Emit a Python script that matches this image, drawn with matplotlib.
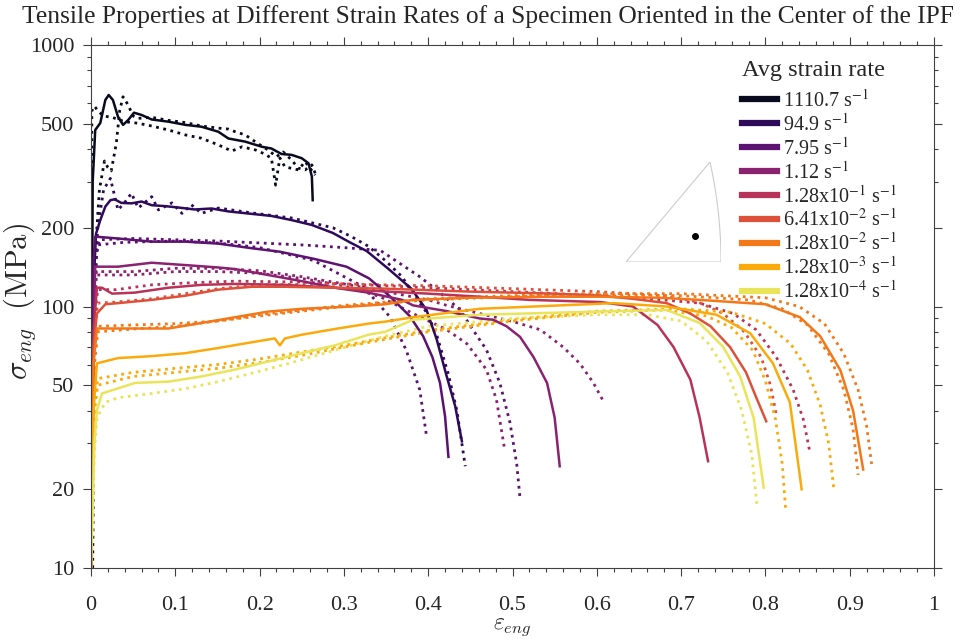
import numpy as np
import matplotlib.pyplot as plt

plt.rcParams['font.family'] = ['Liberation Serif', 'DejaVu Serif']
plt.rcParams['mathtext.fontset'] = 'cm'

# legend labels and colours (one per strain rate)
rate_labels = ['1110.7 s$^{-1}$', '94.9 s$^{-1}$', '7.95 s$^{-1}$', '1.12 s$^{-1}$',
               '1.28x10$^{-1}$ s$^{-1}$', '6.41x10$^{-2}$ s$^{-1}$', '1.28x10$^{-2}$ s$^{-1}$',
               '1.28x10$^{-3}$ s$^{-1}$', '1.28x10$^{-4}$ s$^{-1}$']
rate_colors = ['#0a0a1e', '#2e0a5a', '#5c1270', '#8a2270', '#b83359',
               '#dd513a', '#f37819', '#fbaa0c', '#e9e45a']

# ---- 1110.7 /s
s1_x = [0, 0.002, 0.005, 0.011, 0.017, 0.021, 0.026, 0.032, 0.038, 0.044, 0.051, 0.060, 0.072, 0.092,
        0.112, 0.131, 0.151, 0.163, 0.183, 0.203, 0.214, 0.226, 0.238, 0.250, 0.258, 0.262, 0.263]
s1_y = [10, 300, 473, 503, 616, 644, 616, 532, 495, 516, 551, 540, 519, 509, 495, 487, 466, 439, 427,
        408, 402, 383, 380, 369, 353, 314, 255]
d1a_x = [0, 0.001, 0.004, 0.009, 0.015, 0.025, 0.040, 0.056, 0.072, 0.092, 0.112, 0.131, 0.151, 0.167,
         0.179, 0.195, 0.206, 0.214, 0.219, 0.224, 0.230, 0.246, 0.254, 0.266]
d1a_y = [10, 560, 584, 556, 535, 529, 509, 502, 490, 473, 453, 440, 415, 393, 408, 397, 383, 369, 291,
         370, 342, 333, 358, 318]
d1b_x = [0.002, 0.004, 0.007, 0.010, 0.016, 0.020, 0.024, 0.030, 0.034, 0.038, 0.044, 0.050, 0.056,
         0.072, 0.092, 0.112, 0.131, 0.151, 0.163, 0.171, 0.183, 0.198, 0.210, 0.220, 0.228, 0.238,
         0.246, 0.254, 0.262, 0.266]
d1b_y = [10, 60, 200, 280, 360, 340, 330, 420, 560, 634, 590, 535, 524, 529, 515, 505, 490, 481, 477,
         466, 453, 420, 397, 374, 390, 363, 338, 333, 348, 323]

# ---- 94.9 /s
s2_x = [0, 0.003, 0.006, 0.011, 0.017, 0.023, 0.028, 0.036, 0.048, 0.060, 0.072, 0.088, 0.104, 0.123,
        0.143, 0.163, 0.191, 0.214, 0.238, 0.262, 0.287, 0.307, 0.327, 0.352, 0.380, 0.398, 0.410,
        0.422, 0.432, 0.440]
s2_y = [10, 120, 190, 214, 241, 255, 257, 249, 248, 252, 244, 242, 239, 235, 237, 231, 226, 222, 214,
        205, 191, 176, 163, 140, 117, 97, 75, 54, 41.6, 30.5]
d2_x = [0, 0.004, 0.008, 0.015, 0.023, 0.032, 0.040, 0.048, 0.056, 0.064, 0.072, 0.080, 0.096, 0.108,
        0.119, 0.131, 0.151, 0.191, 0.238, 0.287, 0.309, 0.329, 0.349, 0.369, 0.382, 0.398, 0.410,
        0.424, 0.434, 0.444]
d2_y = [10, 120, 200, 280, 309, 234, 250, 271, 238, 250, 263, 234, 249, 227, 245, 227, 238, 228, 218,
        200, 185, 170, 150, 130, 112, 95, 78, 55, 40, 24.5]

# ---- 7.95 /s
s3_x = [0, 0.003, 0.005, 0.032, 0.072, 0.112, 0.151, 0.191, 0.224, 0.265, 0.303, 0.330, 0.355, 0.378,
        0.394, 0.405, 0.414, 0.420, 0.424]
s3_y = [10, 150, 185, 182, 177, 177, 174, 167, 162, 152, 142, 128, 109, 92, 77, 64, 51, 38, 26.6]
d3a_x = [0, 0.004, 0.008, 0.04, 0.10, 0.15, 0.20, 0.264, 0.323, 0.355, 0.374, 0.390, 0.398]
d3a_y = [10, 140, 172, 176, 178, 175, 168, 150, 119, 91, 68, 48, 32]
d3b_x = [0, 0.005, 0.010, 0.05, 0.10, 0.15, 0.20, 0.25, 0.30, 0.343, 0.390, 0.414, 0.438, 0.453,
         0.469, 0.485, 0.497, 0.505, 0.509]
d3b_y = [10, 150, 180, 182, 180, 178, 175, 172, 168, 164, 130, 113, 97, 81.5, 68.4, 51, 36, 25, 18.4]

# ---- 1.12 /s
s4_x = [0, 0.004, 0.005, 0.032, 0.072, 0.112, 0.151, 0.171, 0.210, 0.250, 0.289, 0.329, 0.369, 0.382,
        0.422, 0.461, 0.477, 0.493, 0.509, 0.525, 0.541, 0.550, 0.556]
s4_y = [10, 100, 142, 142, 147, 144, 141, 139, 132, 125, 118, 113, 106, 101, 96, 90, 89, 84, 76.5,
        64, 51, 37.6, 24.5]
d4a_x = [0, 0.004, 0.006, 0.05, 0.10, 0.15, 0.20, 0.25, 0.30, 0.35, 0.40, 0.422, 0.461, 0.501, 0.533,
         0.560, 0.580, 0.596, 0.608]
d4a_y = [10, 100, 136, 136, 140, 140, 137, 130, 122, 114, 106, 101, 94, 87.5, 81.5, 70, 60.5, 51, 43.3]
d4b_x = [0, 0.004, 0.006, 0.05, 0.10, 0.15, 0.20, 0.25, 0.30, 0.343, 0.382, 0.422, 0.446, 0.469,
         0.481, 0.491]
d4b_y = [10, 100, 132, 132, 136, 136, 134, 128, 120, 109, 94, 81.5, 72, 57.4, 44, 28]

# ---- 1.28e-1 /s
s5_x = [0, 0.003, 0.007, 0.013, 0.025, 0.052, 0.092, 0.131, 0.171, 0.230, 0.289, 0.329, 0.400, 0.461,
        0.520, 0.604, 0.643, 0.672, 0.691, 0.711, 0.722, 0.732]
s5_y = [10, 80, 118, 118, 112, 113, 118, 121, 122, 121, 118, 115, 112, 109, 106, 104, 100, 85, 70,
        52.5, 37.6, 25.6]
d5_x = [0, 0.004, 0.008, 0.03, 0.072, 0.112, 0.171, 0.25, 0.35, 0.45, 0.55, 0.65, 0.722, 0.762,
        0.789, 0.813, 0.833, 0.845, 0.853]
d5_y = [10, 90, 116, 116, 121, 123, 125, 124, 120, 116, 112, 108, 103, 94, 81.5, 64, 48, 37, 27.5]

# ---- 6.41e-2 /s
s6_x = [0, 0.003, 0.007, 0.017, 0.032, 0.072, 0.112, 0.151, 0.191, 0.230, 0.289, 0.35, 0.45, 0.55,
        0.604, 0.643, 0.683, 0.711, 0.735, 0.758, 0.777, 0.789, 0.801]
s6_y = [10, 70, 94, 102, 103, 106, 110, 116, 119, 119, 118, 117, 114, 112, 110, 107, 103, 94, 84, 70,
        56, 45, 36.4]
d6_x = [0, 0.004, 0.008, 0.03, 0.072, 0.112, 0.151, 0.2, 0.3, 0.4, 0.5, 0.6, 0.68, 0.72, 0.75, 0.775,
        0.795, 0.806, 0.813]
d6_y = [10, 80, 103, 104, 107, 112, 117, 121, 122, 120, 117, 114, 110, 104, 94, 80, 64, 50, 38.5]

# ---- 1.28e-2 /s
s7_x = [0, 0.003, 0.007, 0.032, 0.092, 0.131, 0.171, 0.210, 0.250, 0.310, 0.349, 0.382, 0.45, 0.54,
        0.604, 0.675, 0.722, 0.80, 0.841, 0.865, 0.889, 0.904, 0.916]
s7_y = [10, 60, 82.4, 82.4, 82.4, 86.5, 91, 95.6, 98, 100, 102, 106, 108, 109, 109, 108, 106, 102,
        91, 77, 57, 40, 23.8]
d7a_x = [0, 0.004, 0.008, 0.05, 0.10, 0.15, 0.20, 0.25, 0.30, 0.40, 0.50, 0.60, 0.70, 0.78, 0.82,
         0.85, 0.875, 0.893, 0.904, 0.910]
d7a_y = [10, 60, 84, 85, 86, 88, 92, 96, 100, 106, 109, 111, 110, 106, 98, 85, 66, 48, 34, 22.7]
d7b_x = [0, 0.004, 0.008, 0.05, 0.10, 0.15, 0.20, 0.25, 0.30, 0.40, 0.50, 0.60, 0.70, 0.80, 0.84,
         0.87, 0.893, 0.91, 0.92, 0.926]
d7b_y = [10, 60, 80, 82, 84, 88, 93, 97, 101, 107, 110, 112, 112, 108, 100, 86, 66, 48, 35, 25]

# ---- 1.28e-3 /s
s8_x = [0, 0.003, 0.007, 0.032, 0.072, 0.112, 0.151, 0.191, 0.218, 0.224, 0.230, 0.250, 0.289, 0.329,
        0.349, 0.382, 0.461, 0.620, 0.683, 0.742, 0.782, 0.809, 0.829, 0.843]
s8_y = [10, 40, 60.6, 63.5, 64.6, 66.3, 69.4, 73, 75.5, 71, 75.5, 78, 82, 86, 87.5, 91, 98, 103, 100,
        93, 79, 60.6, 43, 20]
d8a_x = [0, 0.004, 0.008, 0.05, 0.10, 0.15, 0.20, 0.25, 0.30, 0.35, 0.40, 0.50, 0.60, 0.70, 0.76,
         0.80, 0.83, 0.85, 0.865, 0.875, 0.881]
d8a_y = [10, 40, 53, 56, 58, 60, 63, 67, 71, 76, 81, 89, 96, 98, 95, 86, 72, 57, 42, 30, 20.3]
d8b_x = [0, 0.004, 0.008, 0.05, 0.10, 0.15, 0.20, 0.25, 0.30, 0.35, 0.40, 0.50, 0.60, 0.68, 0.73,
         0.76, 0.785, 0.80, 0.812, 0.82, 0.824]
d8b_y = [10, 40, 50, 54, 56, 58, 61, 65, 70, 75, 80, 88, 95, 97, 92, 83, 68, 52, 37, 25, 16.8]

# ---- 1.28e-4 /s
s9_x = [0, 0.004, 0.007, 0.013, 0.052, 0.092, 0.131, 0.171, 0.210, 0.250, 0.289, 0.329, 0.349, 0.382,
        0.461, 0.620, 0.683, 0.722, 0.750, 0.770, 0.786, 0.798]
s9_y = [10, 30, 40, 46.5, 51, 51.6, 54, 57.4, 61.6, 66.3, 71, 78, 80, 89, 93, 96, 97, 86.5, 70, 54,
        37.6, 20.3]
d9_x = [0, 0.004, 0.007, 0.017, 0.032, 0.072, 0.112, 0.151, 0.191, 0.230, 0.270, 0.309, 0.349, 0.40,
        0.50, 0.60, 0.66, 0.70, 0.73, 0.755, 0.772, 0.784, 0.790]
d9_y = [10, 28, 37.6, 43, 44.8, 46.5, 48.5, 51.6, 55.6, 60, 65.3, 71, 77, 84, 90, 93, 93, 88, 74, 56,
        40, 27, 17.3]

solid_curves = [(s1_x, s1_y), (s2_x, s2_y), (s3_x, s3_y), (s4_x, s4_y), (s5_x, s5_y),
                (s6_x, s6_y), (s7_x, s7_y), (s8_x, s8_y), (s9_x, s9_y)]
dotted_curves = [[(d1a_x, d1a_y), (d1b_x, d1b_y)], [(d2_x, d2_y)], [(d3a_x, d3a_y), (d3b_x, d3b_y)],
                 [(d4a_x, d4a_y), (d4b_x, d4b_y)], [(d5_x, d5_y)], [(d6_x, d6_y)],
                 [(d7a_x, d7a_y), (d7b_x, d7b_y)], [(d8a_x, d8a_y), (d8b_x, d8b_y)], [(d9_x, d9_y)]]

# orientation of the specimen inside the IPF triangle
ipf_point = (0.301, 0.095)

fig = plt.figure(figsize=(9.73, 6.41), dpi=100)
ax = fig.add_axes([91 / 973, 1 - 568 / 641, 843 / 973, 523 / 641])

for i in range(9):
    for dx, dy in dotted_curves[i]:
        ax.plot(dx, dy, ':', color=rate_colors[i], lw=2.0)
for i in range(9):
    sx, sy = solid_curves[i]
    ax.plot(sx, sy, '-', color=rate_colors[i], lw=1.8, label=rate_labels[i])

ax.set_yscale('log')
ax.set_xlim(0, 1)
ax.set_ylim(10, 1000)
ax.set_xticks(np.arange(0, 1.01, 0.1))
ax.set_xticklabels(['0', '0.1', '0.2', '0.3', '0.4', '0.5', '0.6', '0.7', '0.8', '0.9', '1'])
ax.set_xticks(np.arange(0, 1.001, 0.02), minor=True)
ax.set_yticks([10, 20, 50, 100, 200, 500, 1000])
ax.set_yticklabels(['10', '20', '50', '100', '200', '500', '1000'])
ax.yaxis.set_minor_formatter(plt.NullFormatter())
ax.tick_params(which='both', direction='out', top=True, right=True, labelsize=16,
               colors='#404040', labelcolor='#262626')
ax.tick_params(which='major', length=6, width=0.8)
ax.tick_params(which='minor', length=3, width=0.8)
ax.tick_params(axis='x', which='major', pad=14)
ax.tick_params(axis='y', which='major', pad=6)
for sp in ax.spines.values():
    sp.set_color('#404040')
    sp.set_linewidth(0.8)

ax.set_xlabel(r'$\varepsilon_{eng}$', fontsize=17, color='#262626')
ax.xaxis.set_label_coords(0.5, -0.092)
ax.set_ylabel(r'$\sigma_{eng}\ \ (\mathrm{MPa})$', fontsize=22, color='#262626')
ax.yaxis.set_label_coords(-0.063, 0.51)
fig.text(0.5015, 1 - 17 / 641, 'Tensile Properties at Different Strain Rates of a Specimen '
         'Oriented in the Center of the IPF', ha='center', va='center', fontsize=18.4,
         color='#262626')

leg = ax.legend(loc='upper left', bbox_to_anchor=(739 / 973, 1 - 57 / 641),
                bbox_transform=fig.transFigure, frameon=False, title='Avg strain rate',
                alignment='left', fontsize=14.5, title_fontsize=17.5, handlelength=1.75,
                handletextpad=0.3, labelspacing=0.1, borderpad=0.15, borderaxespad=0)
leg._legend_box.sep = 6
for h in leg.legend_handles:
    h.set_linewidth(4.5)
for t in leg.get_texts():
    t.set_math_fontfamily('stix')
    t.set_color('#262626')
leg.get_title().set_color('#262626')

# IPF inset triangle
ins = fig.add_axes([626 / 973, 1 - 262 / 641, 95 / 973, 100 / 641])
t = np.linspace(0, 1, 40)
vx, vy, vz = np.ones_like(t), t, np.ones_like(t)
n = np.sqrt(vx ** 2 + vy ** 2 + vz ** 2)
arc_x = (vx / n) / (1 + vz / n)
arc_y = (vy / n) / (1 + vz / n)
bx = np.concatenate([[0], arc_x, [0]])
by = np.concatenate([[0], arc_y, [0]])
ins.plot(bx, by, color='#cccccc', lw=0.8)
ins.plot(*ipf_point, 'o', color='black', ms=4)
ins.set_xlim(0, arc_x.max())
ins.set_ylim(0, arc_y.max())
ins.axis('off')

fig.savefig('out.png', dpi=100)
